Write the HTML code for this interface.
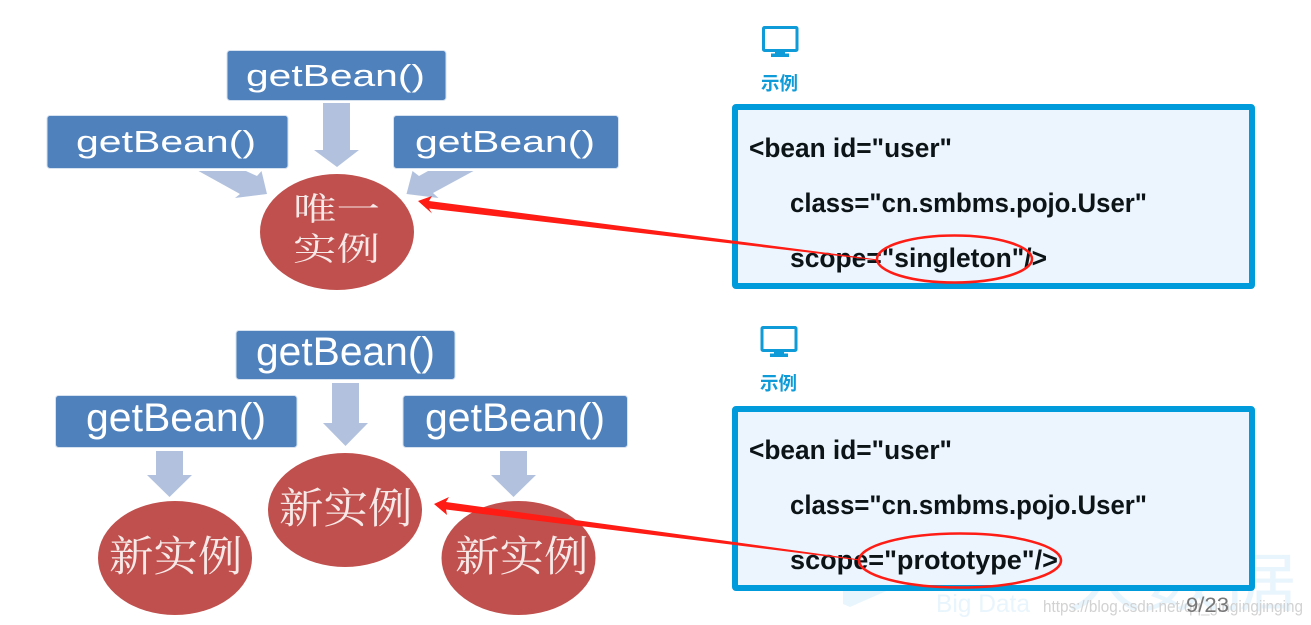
<!DOCTYPE html>
<html>
<head>
<meta charset="utf-8">
<style>
html,body{margin:0;padding:0;background:#fff;width:1311px;height:625px;overflow:hidden}
svg{display:block}
.gb{font-family:"Liberation Sans",sans-serif;fill:#fff}
.cn{font-family:"Noto Serif CJK SC",serif;fill:#f7e9e8}
.code{font-family:"Liberation Sans",sans-serif;font-weight:bold;font-size:27px;fill:#0d1418}
.lbl{font-family:"Liberation Sans","Noto Sans CJK SC",sans-serif;font-weight:bold;font-size:18.500px;fill:#0e9bd8}
</style>
</head>
<body>
<svg width="1311" height="625" viewBox="0 0 1311 625" xmlns="http://www.w3.org/2000/svg">
<!-- watermark -->
<g fill="#e9f5fc">
<polygon points="843,588 893,588 850,607 843,604"/>
<text x="936" y="612" font-family="Liberation Sans,sans-serif" font-size="25" textLength="94" lengthAdjust="spacingAndGlyphs">Big Data</text>
<text x="1066" y="606" font-family="Liberation Sans,Noto Sans CJK SC,sans-serif" font-size="64" textLength="230" lengthAdjust="spacingAndGlyphs">大数据</text>
</g>

<!-- top boxes -->
<g fill="#4f81bd" stroke="#d6e2f0" stroke-width="1">
<rect x="227" y="50.500" width="219" height="50" rx="3"/>
<rect x="47" y="115.500" width="241" height="53" rx="3"/>
<rect x="393.500" y="115.500" width="225" height="53" rx="3"/>
</g>
<g class="gb" font-size="31">
<text x="246" y="86" textLength="179" lengthAdjust="spacingAndGlyphs">getBean()</text>
<text x="76" y="152" textLength="180" lengthAdjust="spacingAndGlyphs">getBean()</text>
<text x="415" y="152" textLength="180" lengthAdjust="spacingAndGlyphs">getBean()</text>
</g>
<!-- top arrows -->
<g fill="#b2c2de">
<polygon points="323,103 350,103 350,150 359,150 337,167 314,150 323,150"/>
<polygon points="198.500,171 246,171 257,176 261.500,171 267,194 235,198 240,194"/>
<polygon points="473.500,171 428,171 419,176 412.500,171 406.500,194 438.500,198 433,193"/>
</g>
<!-- top ellipse -->
<ellipse cx="337" cy="232" rx="77" ry="58" fill="#c0504d"/>
<g class="cn" font-size="32">
<text transform="translate(293,220) scale(1.36,1)">唯一</text>
<text transform="translate(293,260) scale(1.36,1)">实例</text>
</g>

<!-- bottom boxes -->
<g fill="#4f81bd" stroke="#d6e2f0" stroke-width="1">
<rect x="236" y="330.500" width="219" height="49" rx="3"/>
<rect x="55.500" y="395.500" width="241.500" height="52" rx="3"/>
<rect x="403" y="395.500" width="224.500" height="52" rx="3"/>
</g>
<g class="gb" font-size="40">
<text x="256" y="365" textLength="179" lengthAdjust="spacingAndGlyphs">getBean()</text>
<text x="86" y="431" textLength="180" lengthAdjust="spacingAndGlyphs">getBean()</text>
<text x="425" y="431" textLength="180" lengthAdjust="spacingAndGlyphs">getBean()</text>
</g>
<!-- bottom arrows -->
<g fill="#b2c2de">
<polygon points="332,383 359,383 359,423 368,423 345.500,446 323,423 332,423"/>
<polygon points="156,451 183,451 183,475 192,475 169.500,497 147,475 156,475"/>
<polygon points="500,451 527,451 527,475 536,475 513.500,497 491,475 500,475"/>
</g>
<!-- bottom ellipses -->
<g fill="#c0504d">
<ellipse cx="345" cy="510" rx="77" ry="57"/>
<ellipse cx="175" cy="558" rx="77" ry="57"/>
<ellipse cx="518.500" cy="558" rx="77" ry="57"/>
</g>
<g class="cn" font-size="42">
<text transform="translate(279,523) scale(1.06,1)">新实例</text>
<text transform="translate(109,571) scale(1.06,1)">新实例</text>
<text transform="translate(455,571) scale(1.06,1)">新实例</text>
</g>

<!-- icons -->
<g fill="none" stroke="#0e9bd8" stroke-width="3">
<rect x="763.500" y="27.500" width="33.500" height="23" rx="1"/>
<rect x="762" y="327.500" width="34" height="23" rx="1"/>
</g>
<g fill="#0e9bd8">
<rect x="775" y="50" width="10" height="4"/><rect x="771" y="53.500" width="18" height="3.500"/>
<rect x="774" y="350" width="10" height="4"/><rect x="770" y="353.500" width="18" height="3.500"/>
</g>
<text class="lbl" x="761" y="90">示例</text>
<text class="lbl" x="760" y="390">示例</text>

<!-- code boxes -->
<rect x="735" y="107" width="517" height="179" rx="1" fill="#ecf5fd" stroke="#009bdb" stroke-width="6"/>
<rect x="735" y="409" width="517" height="179" rx="1" fill="#ecf5fd" stroke="#009bdb" stroke-width="6"/>
<g class="code">
<text x="749" y="157" textLength="203" lengthAdjust="spacingAndGlyphs">&lt;bean id="user"</text>
<text x="790" y="212" textLength="357" lengthAdjust="spacingAndGlyphs">class="cn.smbms.pojo.User"</text>
<text x="790" y="267" textLength="257" lengthAdjust="spacingAndGlyphs">scope="singleton"/&gt;</text>
<text x="749" y="459" textLength="203" lengthAdjust="spacingAndGlyphs">&lt;bean id="user"</text>
<text x="790" y="514" textLength="357" lengthAdjust="spacingAndGlyphs">class="cn.smbms.pojo.User"</text>
<text x="790" y="569" textLength="268" lengthAdjust="spacingAndGlyphs">scope="prototype"/&gt;</text>
</g>

<!-- red annotations -->
<g fill="none" stroke="#fe1c14" stroke-width="2.500">
<ellipse cx="954.500" cy="259" rx="77.500" ry="23.500"/>
<ellipse cx="960" cy="560.500" rx="101" ry="27"/>
</g>
<g fill="#fe1c14">
<polygon points="418,201 432,196 429,201 878,259.500 878,260.500 429,208.500 432,213.500"/>
<polygon points="434,504 449,497 446,502 860,559.500 860,560.500 446,509.500 447,515"/>
</g>

<!-- footer -->
<text x="1043" y="612" font-family="Liberation Sans,sans-serif" font-size="17" fill="#d2d2d2" textLength="260" lengthAdjust="spacingAndGlyphs">https://blog.csdn.net/qq_gingingjinging</text>
<text x="1186" y="612" font-family="Liberation Sans,sans-serif" font-size="21" fill="#777" textLength="43" lengthAdjust="spacingAndGlyphs">9/23</text>
</svg>
</body>
</html>
